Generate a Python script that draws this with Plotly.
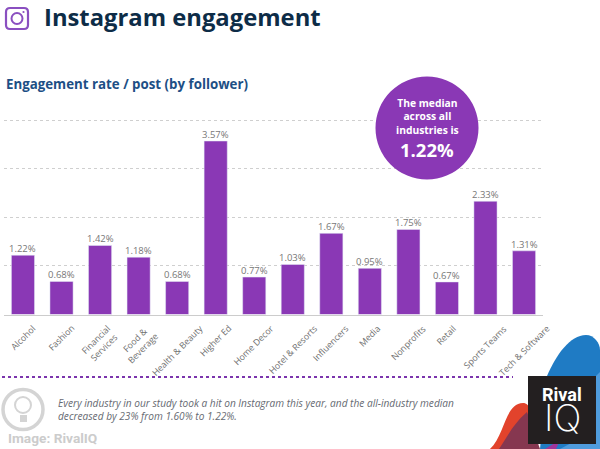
import re
import plotly.graph_objects as go

categories = ["Alcohol", "Fashion", "Financial Services", "Food & Beverage", "Health & Beauty",
              "Higher Ed", "Home Decor", "Hotel & Resorts", "Influencers", "Media",
              "Nonprofits", "Retail", "Sports Teams", "Tech & Software"]
tick_labels = ["Alcohol", "Fashion", "Financial<br>Services", "Food &<br>Beverage", "Health & Beauty",
               "Higher Ed", "Home Decor", "Hotel & Resorts", "Influencers", "Media",
               "Nonprofits", "Retail", "Sports Teams", "Tech & Software"]
values = [1.22, 0.68, 1.42, 1.18, 0.68, 3.57, 0.77, 1.03, 1.67, 0.95, 1.75, 0.67, 2.33, 1.31]
y_ticks = [0, 1, 2, 3, 4]

W, H = 600, 449
PURPLE = "#8a38b5"
def px(x): return x / W
def py(y): return 1 - y / H

def path(d):
    toks = re.findall(r"[A-Za-z]|-?[\d.]+", d)
    out, isx = [], True
    for t in toks:
        if t.isalpha():
            out.append(t); isx = True
        else:
            out.append(f"{px(float(t)):.5f}" if isx else f"{py(float(t)):.5f}")
            isx = not isx
    return " ".join(out)

def pshape(d, fill, line=None, lw=0):
    return dict(type="path", xref="paper", yref="paper", path=path(d), fillcolor=fill,
                line=dict(color=line or fill, width=lw), layer="below")

def circle(cx, cy, r, fill="rgba(0,0,0,0)", line=None, lw=0, layer="above"):
    return dict(type="circle", xref="paper", yref="paper", x0=px(cx-r), x1=px(cx+r),
                y0=py(cy+r), y1=py(cy-r), fillcolor=fill,
                line=dict(color=line or fill, width=lw), layer=layer)

def rect(x0, y0, x1, y1, fill, line=None, lw=0, layer="above"):
    return dict(type="rect", xref="paper", yref="paper", x0=px(x0), x1=px(x1),
                y0=py(y1), y1=py(y0), fillcolor=fill,
                line=dict(color=line or fill, width=lw), layer=layer)

def txt(x, y, s, size, color, family="Open Sans", anchor="left", weight=None):
    f = dict(size=size, color=color, family=family)
    if weight:
        f["weight"] = weight
    return dict(xref="paper", yref="paper", x=px(x), y=py(y), text=s, showarrow=False,
                xanchor=anchor, yanchor="middle", align=anchor, font=f)

fig = go.Figure(go.Bar(x=categories, y=values, marker=dict(color=PURPLE), width=0.6))

shapes = [
    pshape("M 547 376 C 556 355 570 335 586 335 C 594 335 600 343 600 350 L 600 449 L 540 449 Z", "#1f7bc4"),
    pshape("M 596 376 L 600 372 L 600 449 L 560 449 L 596 430 Z", "#4f9bdc"),
    pshape("M 490 449 C 505 435 505 403 523 403 C 530 403 532 410 535 449 Z", "#e2432c"),
    pshape("M 499 449 C 507 438 512 425 527 412 L 540 449 Z", "#863750"),
    pshape("M 545 449 L 560 440 L 556 449 Z", "#a0359a"),
    rect(528, 376, 596, 444, "#231f20", layer="below"),
    dict(type="path", xref="paper", yref="paper", layer="above", fillcolor="rgba(0,0,0,0)",
         path=path("M 6 12 Q 6 8 10 8 L 24 8 Q 28 8 28 12 L 28 25 Q 28 29 24 29 L 10 29 Q 6 29 6 25 Z"),
         line=dict(color="#8a4fc0", width=2.2)),
    circle(17, 18.5, 5.5, line="#8a4fc0", lw=2),
    circle(23.5, 12, 1.1, fill="#8a4fc0"),
    circle(427, 128, 51.5, fill=PURPLE),
    dict(type="line", xref="paper", yref="paper", x0=px(2), x1=px(513), y0=py(377), y1=py(377),
         line=dict(color="#7b35ad", width=2, dash="dot")),
    circle(23, 409.5, 20, line="#d4d4d4", lw=3.5),
    circle(23, 405, 8, line="#d4d4d4", lw=2),
    rect(20, 415, 27, 422, "#d4d4d4"),
]

annotations = [
    txt(42, 17.5, "<b>Instagram engagement</b>", 23.8, "#0d2c47"),
    txt(4, 84, "<b>Engagement rate / post (by follower)</b>", 13.3, "#1d4f85"),
    txt(427, 116, "<b>The median<br>across all<br>industries is</b>", 10.3, "white", anchor="center"),
    txt(427, 149, "<b>1.22%</b>", 18.5, "white", anchor="center"),
    txt(56, 409, "<i>Every industry in our study took a hit on Instagram this year, and the all-industry median<br>decreased by 23% from 1.60% to 1.22%.</i>", 10.15, "#666a72"),
    txt(6, 438, "<b>Image: RivalIQ</b>", 13.7, "#cccccc", family="Roboto"),
    txt(562, 394, "<b>Rival</b>", 18, "white", family="Roboto", anchor="center"),
    txt(562, 417, "IQ", 37, "white", family="Inter", anchor="center", weight=200),
]
for c, lab, v in zip(categories, tick_labels, values):
    annotations.append(dict(xref="x", yref="paper", x=c, y=py(320), text=lab, showarrow=False,
                            textangle=-45, xanchor="center", yanchor="top", align="center",
                            font=dict(size=8.8, color="#707070", family="Open Sans")))
    annotations.append(dict(xref="x", yref="y", x=c, y=v, text=f"{v:.2f}%", showarrow=False,
                            xanchor="center", yanchor="bottom", yshift=-2,
                            font=dict(size=9.5, color="#777777", family="Open Sans")))

fig.update_layout(
    width=W, height=H, margin=dict(l=0, r=0, t=0, b=0), autosize=False,
    paper_bgcolor="white", plot_bgcolor="rgba(0,0,0,0)", showlegend=False,
    shapes=shapes, annotations=annotations,
    xaxis=dict(domain=[px(3.7), px(543.3)], type="category", range=[-0.5, 13.5], showgrid=False,
               showticklabels=False, showline=True, linecolor="#cccccc", linewidth=1, ticks="",
               automargin=False),
    yaxis=dict(domain=[py(314.5), py(110.4)], range=[0, 4.2], tickvals=y_ticks, showticklabels=False,
               showgrid=True, gridcolor="#cfcfcf", griddash="dot", gridwidth=1, zeroline=False,
               automargin=False),
)
fig.write_html("out.html", config={"displayModeBar": False},
               post_script="document.body.style.margin='0';document.documentElement.style.overflow='hidden';")
